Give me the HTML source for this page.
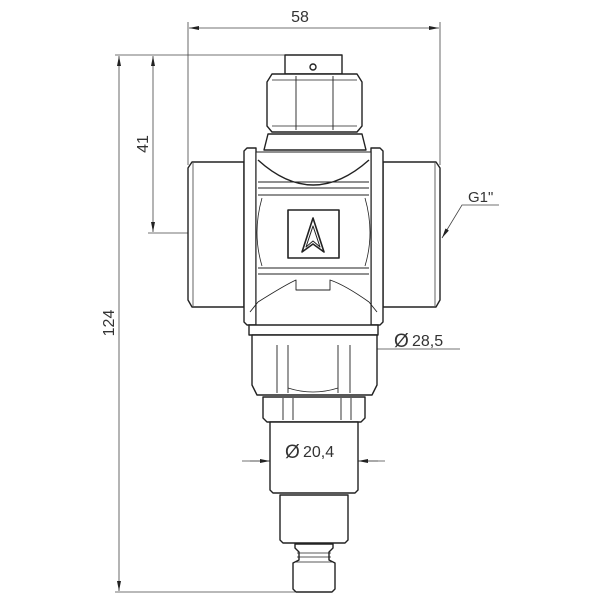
<!DOCTYPE html>
<html><head><style>html,body{margin:0;padding:0;background:#fff}svg{display:block}</style></head>
<body>
<svg width="600" height="600" viewBox="0 0 600 600" xmlns="http://www.w3.org/2000/svg" font-family="Liberation Sans, sans-serif">
<defs>
<marker id="a" viewBox="0 0 10 4" refX="10" refY="2" markerWidth="12" markerHeight="4" orient="auto-start-reverse" markerUnits="userSpaceOnUse"><path d="M0,0L10,2L0,4z" fill="#222"/></marker>
</defs>
<g stroke="#444" stroke-width="0.8" fill="none">
<line x1="188" y1="22" x2="188" y2="165"/>
<line x1="440" y1="22" x2="440" y2="165"/>
<line x1="189" y1="28" x2="439" y2="28" marker-start="url(#a)" marker-end="url(#a)"/>
<line x1="115" y1="55" x2="290" y2="55"/>
<line x1="115" y1="592" x2="295" y2="592"/>
<line x1="148" y1="233" x2="188" y2="233"/>
<line x1="119" y1="56" x2="119" y2="591" marker-start="url(#a)" marker-end="url(#a)"/>
<line x1="153" y1="56" x2="153" y2="232" marker-start="url(#a)" marker-end="url(#a)"/>
<polyline points="442,238 462,205 499,205" marker-start="url(#a)"/>
<line x1="255" y1="349" x2="460" y2="349"/>
<line x1="256" y1="349" x2="290" y2="349" marker-start="url(#a)"/>
<line x1="340" y1="349" x2="376" y2="349" marker-end="url(#a)"/>
<line x1="242" y1="461" x2="385" y2="461"/>
<line x1="250" y1="461" x2="270" y2="461" marker-end="url(#a)"/>
<line x1="378" y1="461" x2="358" y2="461" marker-end="url(#a)"/>
</g>
<line x1="188" y1="233" x2="440" y2="233" stroke="#555" stroke-width="0.8" stroke-dasharray="18,4,4,4"/>
<g stroke="#222" stroke-width="1.4" fill="#fff" stroke-linejoin="round">
<path d="M192,162H244V307H192L188,300V168Z"/>
<line x1="193" y1="163" x2="193" y2="306" stroke-width="0.7"/>
<path d="M383,162H436L440,168V300L436,307H383Z"/>
<line x1="435" y1="163" x2="435" y2="306" stroke-width="0.7"/>
<rect x="285" y="55" width="57" height="19"/>
<circle cx="313" cy="67" r="3"/>
<path d="M272,74H357L362,82V126L357,132H272L267,126V82Z"/>
<path d="M296,76V130M333,76V130" stroke-width="0.9"/>
<path d="M272,80H357M272,126H357" stroke-width="0.7"/>
<path d="M268,134H362L366,150H264Z"/>
<path d="M247,148H256V325H247L244,322V151Z"/>
<path d="M371,148H380L383,151V322L380,325H371Z"/>
<rect x="256" y="152" width="115" height="173" stroke-width="1.1"/>
<path d="M258,160 Q313,210 369,160" fill="none"/>
<path d="M258,182H369M258,188H369M258,195H369" fill="none" stroke-width="0.9"/>
<path d="M258,268H369M258,274H369" fill="none" stroke-width="0.9"/>
<path d="M262,198 Q252,233 262,266M365,198 Q375,233 365,266" fill="none" stroke-width="0.8"/>
<path d="M258,302 Q285,285 296,280 V290 H330 V280 Q345,285 369,302" fill="none" stroke-width="0.9"/>
<path d="M250,312L258,302M377,312L369,302" fill="none" stroke-width="0.9"/>
<rect x="288" y="210" width="51" height="48" stroke-width="1.6"/>
<path d="M313,218L302,252L313,244L324,252Z" stroke-width="1.6"/>
<path d="M313,226L306,247L313,241L320,247Z" stroke-width="1"/>
<rect x="249" y="325" width="129" height="10"/>
<path d="M252,335H377V385L372,395H257L252,385Z"/>
<path d="M277,345V393M288,345V393M338,345V393M350,345V393" stroke-width="0.9"/>
<path d="M288,388 Q313,396 338,388" fill="none" stroke-width="0.8"/>
<path d="M263,397H365V418L361,422H267L263,418Z"/>
<path d="M283,398V420M293,398V420M341,398V420M351,398V420" stroke-width="0.9"/>
<path d="M270,422H358V490L355,493H273L270,490Z"/>
<path d="M280,495H348V540L345,543H283L280,540Z"/>
<path d="M295,544H333V548L329,552V560L335,563V589L332,592H296L293,589V563L299,560V552L295,548Z"/>
<path d="M297,553H331M297,557H331M296,562H332" stroke-width="0.8"/>
</g>
<g fill="#333" font-size="16">
<text x="300" y="22" text-anchor="middle">58</text>
<text x="468" y="202" font-size="15">G1"</text>
<text x="394" y="347" font-size="19">Ø</text>
<text x="412" y="346">28,5</text>
<text x="285" y="458" font-size="19">Ø</text>
<text x="303" y="457">20,4</text>
<text transform="translate(114,323) rotate(-90)" text-anchor="middle">124</text>
<text transform="translate(148,144) rotate(-90)" text-anchor="middle">41</text>
</g>
</svg>
</body></html>
